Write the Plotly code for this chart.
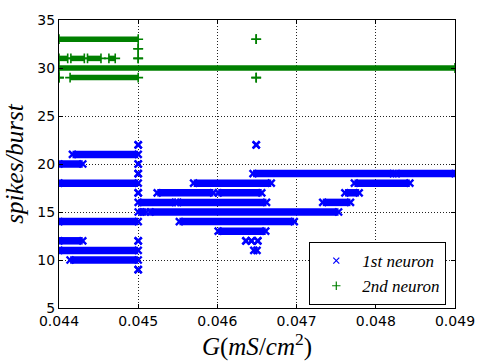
import plotly.graph_objects as go

# ---- data: constant-valued runs over the G sweep ----
# 1st neuron (blue x): start G, end G, spikes/burst
n1_start = [0.0450, 0.04649, 0.04417, 0.0440, 0.0450, 0.0450, 0.04645, 0.04826,
            0.0440, 0.0457, 0.04773, 0.0450, 0.04524, 0.04601, 0.04761,
            0.0450, 0.04550, 0.04733, 0.0450, 0.04515, 0.0440, 0.04552,
            0.04601, 0.0440, 0.0450, 0.04636, 0.04643, 0.04651, 0.0440, 0.04646,
            0.04414, 0.0450]
n1_end = [0.0450, 0.04649, 0.0450, 0.04430, 0.0450, 0.0450, 0.04822, 0.0490,
          0.0450, 0.04668, 0.04843, 0.0450, 0.04595, 0.04656, 0.04779,
          0.04547, 0.04662, 0.04768, 0.0451, 0.04753, 0.0450, 0.04697,
          0.04661, 0.0443, 0.0450, 0.04636, 0.04643, 0.04651, 0.0450, 0.04650,
          0.0450, 0.0450]
n1_val = [22, 22, 21, 20, 20, 19, 19, 19,
          18, 18, 18, 17, 17, 17, 17,
          16, 16, 16, 15, 15, 14, 14,
          13, 12, 12, 12, 12, 12, 11, 11,
          10, 9]

# 2nd neuron (green +)
n2_start = [0.0440, 0.04649, 0.0450, 0.0440, 0.04415, 0.04436, 0.04463, 0.0450,
            0.0440, 0.0440, 0.04414, 0.04649]
n2_end = [0.0450, 0.04649, 0.0450, 0.04411, 0.04432, 0.04453, 0.04471, 0.0450,
          0.0490, 0.0440, 0.0450, 0.04649]
n2_val = [33, 33, 32, 31, 31, 31, 31, 31,
          30, 29, 29, 29]

x_ticks = [0.044, 0.045, 0.046, 0.047, 0.048, 0.049]
x_tick_text = ["0.044", "0.045", "0.046", "0.047", "0.048", "0.049"]
y_ticks = [5, 10, 15, 20, 25, 30, 35]


def runs(starts, ends, vals):
    xs, ys = [], []
    for s, e, v in zip(starts, ends, vals):
        xs += [s, e, None]
        ys += [v, v, None]
    return xs, ys


BLUE = "#0000ff"
GREEN = "#008000"
SERIF = "Liberation Serif, DejaVu Serif, serif"

fig = go.Figure()

x1, y1 = runs(n1_start, n1_end, n1_val)
fig.add_trace(go.Scatter(x=x1, y=y1, mode="lines+markers", showlegend=False,
                         line=dict(color=BLUE, width=7.5),
                         marker=dict(symbol="x-thin", size=7, color=BLUE,
                                     line=dict(color=BLUE, width=2.4))))
x2, y2 = runs(n2_start, n2_end, n2_val)
fig.add_trace(go.Scatter(x=x2, y=y2, mode="lines+markers", showlegend=False,
                         line=dict(color=GREEN, width=5.5),
                         marker=dict(symbol="cross-thin", size=7, color=GREEN,
                                     line=dict(color=GREEN, width=1.6))))

# legend entries
fig.add_trace(go.Scatter(x=[None], y=[None], mode="markers", name="<i>1st neuron</i>",
                         legendgroup="a",
                         marker=dict(symbol="x-thin", size=6, color=BLUE,
                                     line=dict(color=BLUE, width=1.2))))
fig.add_trace(go.Scatter(x=[None], y=[None], mode="markers", name="<i>2nd neuron</i>",
                         legendgroup="b",
                         marker=dict(symbol="cross-thin", size=6, color=GREEN,
                                     line=dict(color=GREEN, width=1.2))))

axis_common = dict(showline=True, linecolor="black", linewidth=1, mirror="allticks",
                   ticks="inside", ticklen=4, tickcolor="black",
                   showgrid=True, gridcolor="#222", griddash="1px,2px", gridwidth=1,
                   zeroline=False,
                   tickfont=dict(family="DejaVu Sans", size=14, color="black"))

fig.update_xaxes(range=[0.044, 0.049], tickvals=x_ticks, ticktext=x_tick_text,
                 title=dict(text="<i>G</i>(<i>mS</i>/<i>cm</i><sup>2</sup>)",
                            font=dict(family=SERIF, size=25, color="black"),
                            standoff=4),
                 **axis_common)
fig.update_yaxes(range=[5, 35], tickvals=y_ticks,
                 title=dict(text="<i>spikes/burst</i>",
                            font=dict(family=SERIF, size=25, color="black"),
                            standoff=6),
                 **axis_common)

fig.update_layout(
    width=487, height=362,
    margin=dict(l=59, r=22, t=16, b=52),
    paper_bgcolor="white", plot_bgcolor="white",
    legend=dict(x=0.978, y=0.01, xanchor="right", yanchor="bottom",
                bgcolor="white", bordercolor="black", borderwidth=1,
                font=dict(family=SERIF, size=17, color="black"),
                itemwidth=42, tracegroupgap=0),
)

fig.write_html("out.html")
